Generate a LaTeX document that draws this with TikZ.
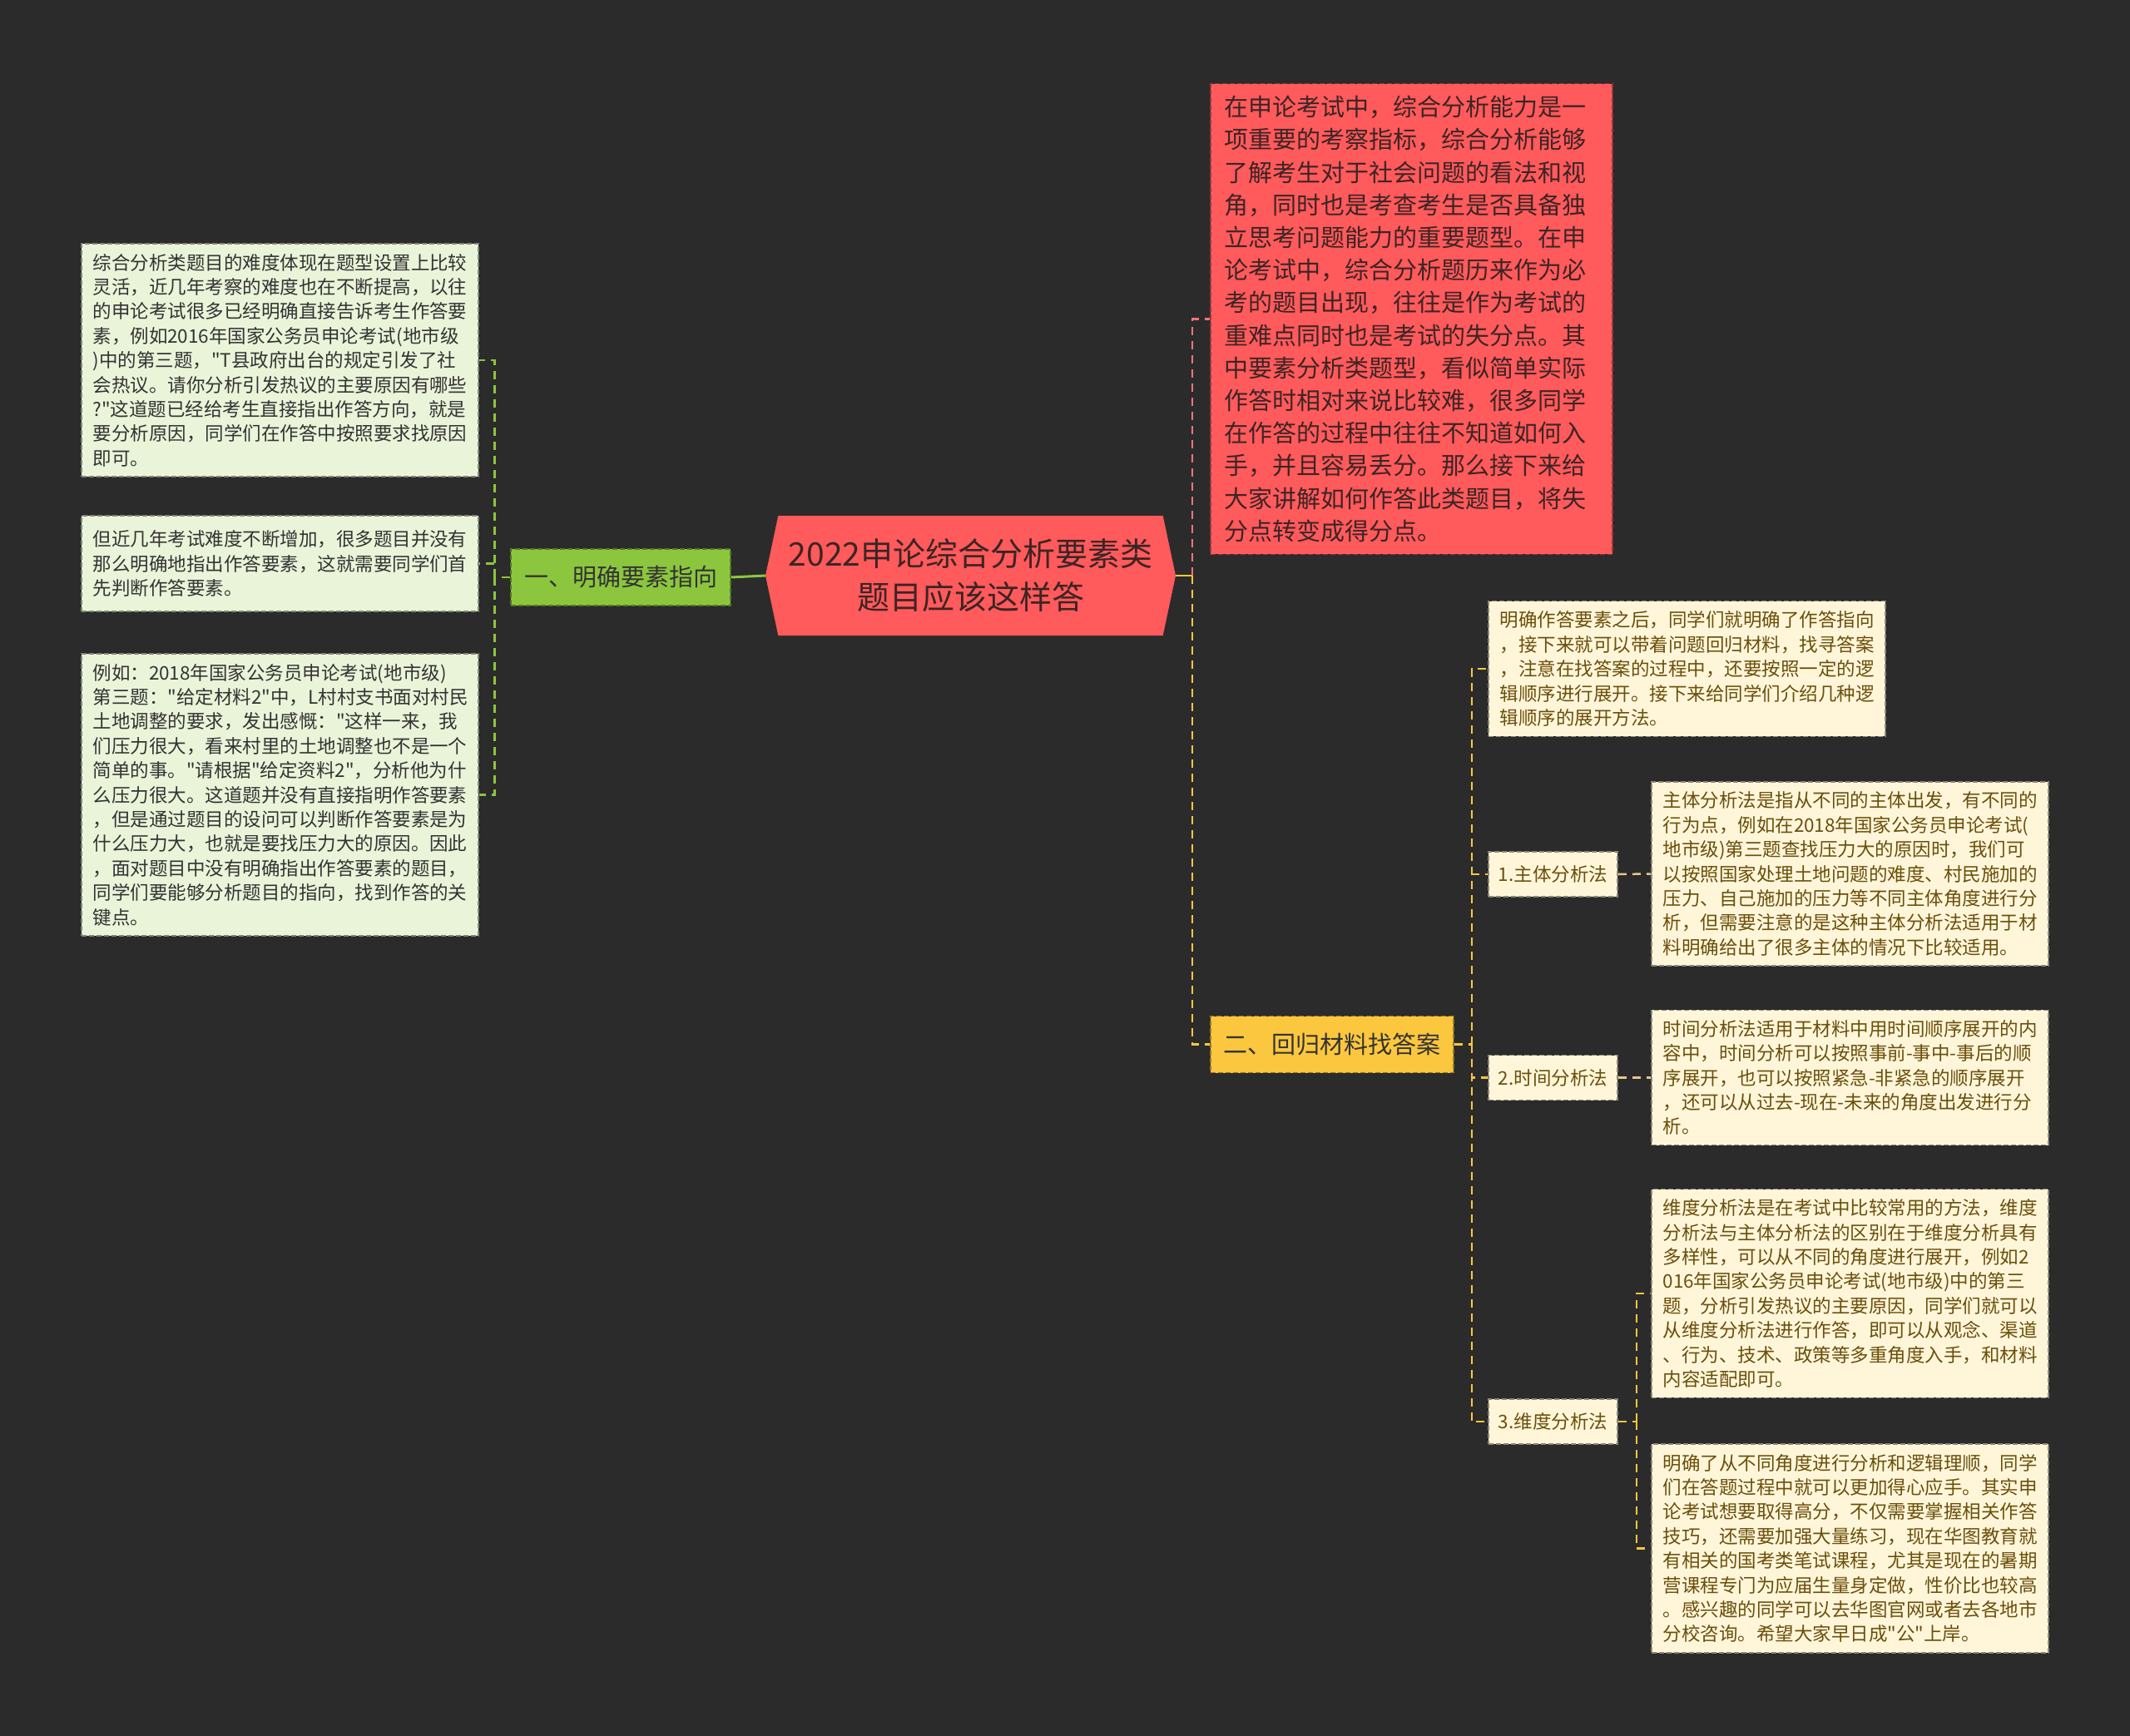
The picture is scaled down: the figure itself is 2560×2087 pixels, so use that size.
\documentclass[tikz,border=0pt]{standalone}
\usepackage{fontspec}
\setmainfont{Noto Sans CJK SC}
\newfontfamily\cjkfont{Noto Sans CJK SC}
\usetikzlibrary{shapes.symbols}

\definecolor{bgdark}{HTML}{2B2B2B}
\definecolor{leafgreen}{HTML}{EAF4D9}
\definecolor{leafcream}{HTML}{FFF6DA}
\definecolor{rootred}{HTML}{FF5A5C}
\definecolor{branchgreen}{HTML}{8CC63E}
\definecolor{branchyellow}{HTML}{FBC73E}
\definecolor{browntext}{HTML}{6B4F0B}
\definecolor{darktext}{HTML}{333333}
\definecolor{redtext}{HTML}{3D2424}
\definecolor{tanline}{HTML}{E9C48A}

\begin{document}
\begin{tikzpicture}[
    x=1pt, y=-1pt,
    boxline/.style={dash pattern=on 6pt off 3pt, line width=1.5pt},
    leftbox/.style={boxline, draw=leafgreen!55!black, fill=leafgreen, text=darktext,
                    text width=450pt, align=left, inner xsep=13.5pt, inner ysep=12pt,
                    font={\cjkfont\fontsize{22.5}{29.4}\selectfont}},
    creambox/.style={boxline, draw=leafcream!55!black, fill=leafcream, text=browntext,
                     text width=450pt, align=left, inner xsep=13.5pt, inner ysep=12pt,
                     font={\cjkfont\fontsize{22.5}{29.4}\selectfont}},
    method/.style={boxline, draw=leafcream!55!black, fill=leafcream, text=browntext,
                   minimum width=155pt, minimum height=54pt, inner sep=0pt,
                   font={\cjkfont\fontsize{22.5}{29.4}\selectfont}},
    branch/.style={boxline, minimum height=68pt, inner xsep=10pt, text=darktext,
                   font={\cjkfont\fontsize{29}{36}\selectfont}},
    link/.style={line width=2.5pt, dash pattern=on 10pt off 7pt},
]
\useasboundingbox[fill=bgdark] (0,0) rectangle (2560,2087);

% root
\node[signal, signal to=west and east, signal pointer angle=156, fill=rootred,
      text=redtext, minimum width=493pt, minimum height=144pt, align=center,
      font={\cjkfont\fontsize{39}{52}\selectfont}] (root) at (1166.5,692)
    {2022申论综合分析要素类\\题目应该这样答};

\node[boxline, draw=rootred!60!black, fill=rootred, text=redtext, text width=451pt,
      align=left, inner xsep=16pt, inner ysep=14.5pt,
      font={\cjkfont\fontsize{29}{39.2}\selectfont}] (intro) at (1696.5,383.5)
    {在申论考试中，综合分析能力是一\\
     项重要的考察指标，综合分析能够\\
     了解考生对于社会问题的看法和视\\
     角，同时也是考查考生是否具备独\\
     立思考问题能力的重要题型。在申\\
     论考试中，综合分析题历来作为必\\
     考的题目出现，往往是作为考试的\\
     重难点同时也是考试的失分点。其\\
     中要素分析类题型，看似简单实际\\
     作答时相对来说比较难，很多同学\\
     在作答的过程中往往不知道如何入\\
     手，并且容易丢分。那么接下来给\\
     大家讲解如何作答此类题目，将失\\
     分点转变成得分点。};

% branch one
\node[branch, draw=branchgreen!60!black, fill=branchgreen, minimum width=264pt]
    (sec1) at (746,694) {一、明确要素指向};

\node[leftbox] (l1) at (336.5,433)
    {综合分析类题目的难度体现在题型设置上比较\\
     灵活，近几年考察的难度也在不断提高，以往\\
     的申论考试很多已经明确直接告诉考生作答要\\
     素，例如2016年国家公务员申论考试(地市级\\
     )中的第三题，"T县政府出台的规定引发了社\\
     会热议。请你分析引发热议的主要原因有哪些\\
     ?"这道题已经给考生直接指出作答方向，就是\\
     要分析原因，同学们在作答中按照要求找原因\\
     即可。};
\node[leftbox, minimum height=115pt] (l2) at (336.5,677.5)
    {但近几年考试难度不断增加，很多题目并没有\\
     那么明确地指出作答要素，这就需要同学们首\\
     先判断作答要素。};
\node[leftbox] (l3) at (336.5,955.5)
    {例如：2018年国家公务员申论考试(地市级)\\
     第三题："给定材料2"中，L村村支书面对村民\\
     土地调整的要求，发出感慨："这样一来，我\\
     们压力很大，看来村里的土地调整也不是一个\\
     简单的事。"请根据"给定资料2"，分析他为什\\
     么压力很大。这道题并没有直接指明作答要素\\
     ，但是通过题目的设问可以判断作答要素是为\\
     什么压力大，也就是要找压力大的原因。因此\\
     ，面对题目中没有明确指出作答要素的题目，\\
     同学们要能够分析题目的指向，找到作答的关\\
     键点。};

% branch two
\node[branch, draw=branchyellow!60!black, fill=branchyellow, minimum width=292pt]
    (sec2) at (1601,1255.5) {二、回归材料找答案};

\node[creambox] (r0) at (2027.5,804)
    {明确作答要素之后，同学们就明确了作答指向\\
     ，接下来就可以带着问题回归材料，找寻答案\\
     ，注意在找答案的过程中，还要按照一定的逻\\
     辑顺序进行展开。接下来给同学们介绍几种逻\\
     辑顺序的展开方法。};

\node[method] (m1) at (1866.5,1051) {1.主体分析法};
\node[method] (m2) at (1866.5,1295.5) {2.时间分析法};
\node[method] (m3) at (1866.5,1709) {3.维度分析法};

\node[creambox] (b1) at (2223.5,1050.5)
    {主体分析法是指从不同的主体出发，有不同的\\
     行为点，例如在2018年国家公务员申论考试(\\
     地市级)第三题查找压力大的原因时，我们可\\
     以按照国家处理土地问题的难度、村民施加的\\
     压力、自己施加的压力等不同主体角度进行分\\
     析，但需要注意的是这种主体分析法适用于材\\
     料明确给出了很多主体的情况下比较适用。};
\node[creambox] (b2) at (2223.5,1295.5)
    {时间分析法适用于材料中用时间顺序展开的内\\
     容中，时间分析可以按照事前-事中-事后的顺\\
     序展开，也可以按照紧急-非紧急的顺序展开\\
     ，还可以从过去-现在-未来的角度出发进行分\\
     析。};
\node[creambox] (b3) at (2223.5,1555)
    {维度分析法是在考试中比较常用的方法，维度\\
     分析法与主体分析法的区别在于维度分析具有\\
     多样性，可以从不同的角度进行展开，例如2\\
     016年国家公务员申论考试(地市级)中的第三\\
     题，分析引发热议的主要原因，同学们就可以\\
     从维度分析法进行作答，即可以从观念、渠道\\
     、行为、技术、政策等多重角度入手，和材料\\
     内容适配即可。};
\node[creambox] (b4) at (2223.5,1861.5)
    {明确了从不同角度进行分析和逻辑理顺，同学\\
     们在答题过程中就可以更加得心应手。其实申\\
     论考试想要取得高分，不仅需要掌握相关作答\\
     技巧，还需要加强大量练习，现在华图教育就\\
     有相关的国考类笔试课程，尤其是现在的暑期\\
     营课程专门为应届生量身定做，性价比也较高\\
     。感兴趣的同学可以去华图官网或者去各地市\\
     分校咨询。希望大家早日成"公"上岸。};

% connectors
\coordinate (rj) at ([xshift=20pt]root.east);
\draw[line width=2.5pt, branchyellow] (root.east) -- (rj);
\draw[link, rootred!85!white] (rj) |- (intro.west);
\draw[link, branchyellow] (rj) |- (sec2.west);

\draw[line width=3pt, branchgreen] (root.west) -- (sec1.east);
\coordinate (lj) at ([xshift=-19pt]sec1.west);
\draw[link, branchgreen] (sec1.west) -- (lj);
\foreach \leaf in {l1,l2,l3}
    \draw[link, branchgreen] (lj) |- (\leaf.east);

\coordinate (sj) at ([xshift=21pt]sec2.east);
\draw[link, branchyellow] (sec2.east) -- (sj);
\foreach \leaf in {r0,m1,m2,m3}
    \draw[link, branchyellow] (sj) |- (\leaf.west);

\draw[link, tanline] (m1.east) -- (b1.west);
\draw[link, tanline] (m2.east) -- (b2.west);
\coordinate (mj) at ([xshift=22pt]m3.east);
\draw[link, branchyellow] (m3.east) -- (mj);
\foreach \leaf in {b3,b4}
    \draw[link, branchyellow] (mj) |- (\leaf.west);
\end{tikzpicture}
\end{document}
